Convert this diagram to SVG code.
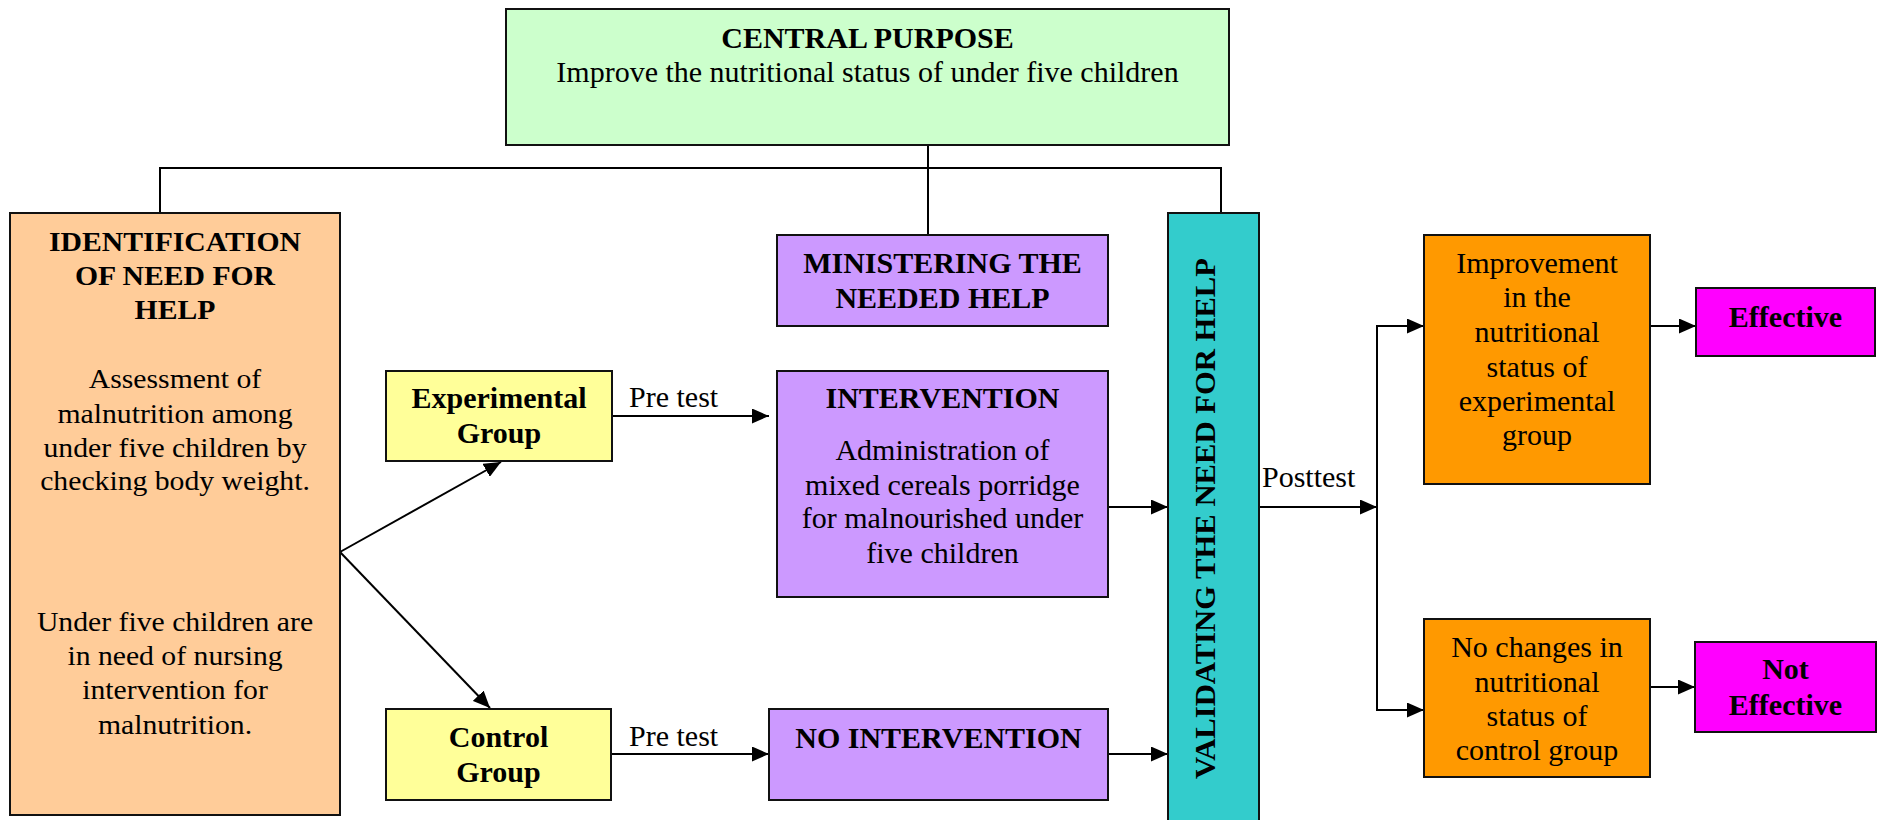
<svg xmlns="http://www.w3.org/2000/svg" width="1879" height="820" viewBox="0 0 1879 820">
<style>
text{font-family:"Liberation Serif","Times New Roman",serif;font-size:30px;fill:#000;text-anchor:middle}
.b{font-weight:bold}
.st{font-family:"Liberation Serif","Times New Roman",serif;font-size:27px}
.lb{text-anchor:start}
rect{stroke:#111;stroke-width:2}
.ln{stroke:#000;stroke-width:2;fill:none}
</style>
<defs>
<marker id="ah" viewBox="0 0 17 15" refX="17" refY="7.5" markerWidth="17" markerHeight="15" markerUnits="userSpaceOnUse" orient="auto">
<path d="M0,0 L17,7.5 L0,15 Z" fill="#000"/>
</marker>
</defs>
<g id="connectors">
<polyline class="ln" points="160,213 160,168 1221,168 1221,213"/>
<line class="ln" x1="928" y1="145" x2="928" y2="235"/>
<line class="ln" x1="161" y1="503" x2="161" y2="596" marker-end="url(#ah)"/>
<line class="ln" x1="340" y1="552" x2="501" y2="462" marker-end="url(#ah)"/>
<line class="ln" x1="340" y1="552" x2="490" y2="708" marker-end="url(#ah)"/>
<line class="ln" x1="612" y1="416" x2="769" y2="416" marker-end="url(#ah)"/>
<line class="ln" x1="611" y1="754" x2="769" y2="754" marker-end="url(#ah)"/>
<line class="ln" x1="1108" y1="507" x2="1168" y2="507" marker-end="url(#ah)"/>
<line class="ln" x1="1108" y1="754" x2="1168" y2="754" marker-end="url(#ah)"/>
<line class="ln" x1="1259" y1="507" x2="1377" y2="507" marker-end="url(#ah)"/>
<polyline class="ln" points="1424,326 1377,326 1377,710 1424,710"/>
<line class="ln" x1="1377" y1="326" x2="1424" y2="326" marker-end="url(#ah)"/>
<line class="ln" x1="1377" y1="710" x2="1424" y2="710" marker-end="url(#ah)"/>
<line class="ln" x1="1650" y1="326" x2="1696" y2="326" marker-end="url(#ah)"/>
<line class="ln" x1="1650" y1="687" x2="1695" y2="687" marker-end="url(#ah)"/>
<text class="lb" x="629" y="407">Pre test</text>
<text class="lb" x="629" y="746">Pre test</text>
<text class="lb" x="1262" y="487">Posttest</text>
</g>
<g id="central">
<rect x="506" y="9" width="723" height="136" fill="#CCFFCC"/>
<text class="b" x="867.5" y="48">CENTRAL PURPOSE</text>
<text x="867.5" y="82">Improve the nutritional status of under five children</text>
</g>
<g id="identification">
<rect x="10" y="213" width="330" height="602" fill="#FFCC99"/>
<g transform="translate(175,0) scale(1.1,1)">
<text class="st b" x="0" y="251">IDENTIFICATION</text>
<text class="st b" x="0" y="285">OF NEED FOR</text>
<text class="st b" x="0" y="319">HELP</text>
<text class="st" x="0" y="388">Assessment of</text>
<text class="st" x="0" y="423">malnutrition among</text>
<text class="st" x="0" y="457">under five children by</text>
<text class="st" x="0" y="490">checking body weight.</text>
<text class="st" x="0" y="631">Under five children are</text>
<text class="st" x="0" y="665">in need of nursing</text>
<text class="st" x="0" y="699">intervention for</text>
<text class="st" x="0" y="734">malnutrition.</text>
</g>
</g>
<g id="ministering">
<rect x="777" y="235" width="331" height="91" fill="#CC99FF"/>
<text class="b" x="942.5" y="273">MINISTERING THE</text>
<text class="b" x="942.5" y="308">NEEDED HELP</text>
</g>
<g id="experimental">
<rect x="386" y="371" width="226" height="90" fill="#FFFF99"/>
<text class="b" x="499" y="408">Experimental</text>
<text class="b" x="499" y="443">Group</text>
</g>
<g id="control">
<rect x="386" y="709" width="225" height="91" fill="#FFFF99"/>
<text class="b" x="498.5" y="747">Control</text>
<text class="b" x="498.5" y="782">Group</text>
</g>
<g id="intervention">
<rect x="777" y="371" width="331" height="226" fill="#CC99FF"/>
<text class="b" x="942.5" y="408">INTERVENTION</text>
<text x="942.5" y="460">Administration of</text>
<text x="942.5" y="495">mixed cereals porridge</text>
<text x="942.5" y="528">for malnourished under</text>
<text x="942.5" y="563">five children</text>
</g>
<g id="no-intervention">
<rect x="769" y="709" width="339" height="91" fill="#CC99FF"/>
<text class="b" x="938.5" y="748">NO INTERVENTION</text>
</g>
<g id="validating">
<rect x="1168" y="213" width="91" height="620" fill="#33CCCC"/>
<text class="b" transform="translate(1215,518.5) rotate(-90)" font-size="27" textLength="521" lengthAdjust="spacingAndGlyphs">VALIDATING THE NEED FOR HELP</text>
</g>
<g id="improvement">
<rect x="1424" y="235" width="226" height="249" fill="#FF9900"/>
<text x="1537" y="273">Improvement</text>
<text x="1537" y="307">in the</text>
<text x="1537" y="342">nutritional</text>
<text x="1537" y="377">status of</text>
<text x="1537" y="411">experimental</text>
<text x="1537" y="445">group</text>
</g>
<g id="effective">
<rect x="1696" y="288" width="179" height="68" fill="#FF00FF"/>
<text class="b" x="1785.5" y="327">Effective</text>
</g>
<g id="no-changes">
<rect x="1424" y="619" width="226" height="158" fill="#FF9900"/>
<text x="1537" y="657">No changes in</text>
<text x="1537" y="692">nutritional</text>
<text x="1537" y="726">status of</text>
<text x="1537" y="760">control group</text>
</g>
<g id="not-effective">
<rect x="1695" y="642" width="181" height="90" fill="#FF00FF"/>
<text class="b" x="1785.5" y="679">Not</text>
<text class="b" x="1785.5" y="715">Effective</text>
</g>
</svg>
